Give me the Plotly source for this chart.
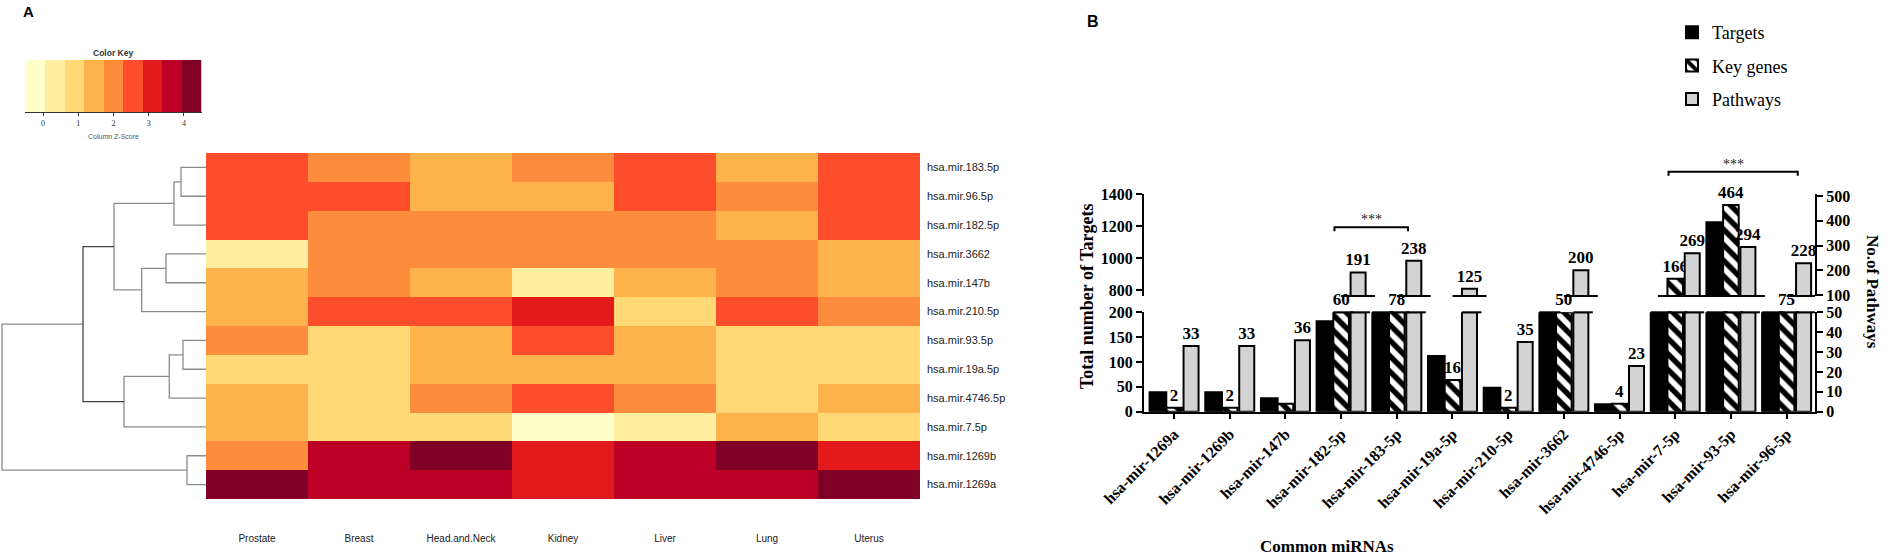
import numpy as np
import plotly.graph_objects as go

W, H = 1895, 559


def px_x(p):
    return p / W


def px_y(p):
    return 1 - p / H


# ---------------- Panel A : heatmap data ----------------
tissues = ["Prostate", "Breast", "Head.and.Neck", "Kidney", "Liver", "Lung", "Uterus"]
heat_rows = ["hsa.mir.183.5p", "hsa.mir.96.5p", "hsa.mir.182.5p", "hsa.mir.3662",
             "hsa.mir.147b", "hsa.mir.210.5p", "hsa.mir.93.5p", "hsa.mir.19a.5p",
             "hsa.mir.4746.5p", "hsa.mir.7.5p", "hsa.mir.1269b", "hsa.mir.1269a"]

# column z-scores, one list per miRNA row (Prostate ... Uterus)
z_mir183_5p = [2.55, 2.0, 1.45, 2.0, 2.55, 1.45, 2.55]
z_mir96_5p = [2.55, 2.55, 1.45, 1.45, 2.55, 2.0, 2.55]
z_mir182_5p = [2.55, 2.0, 2.0, 2.0, 2.0, 1.45, 2.55]
z_mir3662 = [0.35, 2.0, 2.0, 2.0, 2.0, 2.0, 1.45]
z_mir147b = [1.45, 2.0, 1.45, 0.35, 1.45, 2.0, 1.45]
z_mir210_5p = [1.45, 2.55, 2.55, 3.1, 0.9, 2.55, 2.0]
z_mir93_5p = [2.0, 0.9, 1.45, 2.55, 1.45, 0.9, 0.9]
z_mir19a_5p = [0.9, 0.9, 1.45, 1.45, 1.45, 0.9, 0.9]
z_mir4746_5p = [1.45, 0.9, 2.0, 2.55, 2.0, 0.9, 1.45]
z_mir7_5p = [1.45, 0.9, 0.9, -0.2, 0.35, 1.45, 0.9]
z_mir1269b = [2.0, 3.65, 4.2, 3.1, 3.65, 4.2, 3.1]
z_mir1269a = [4.2, 3.65, 3.65, 3.1, 3.65, 3.65, 4.2]

# row dendrogram: (child a, child b, height); leaves 0..11, new clusters 12..
dendro_merges = [(0, 1, 25), (6, 7, 23), (10, 11, 19), (12, 2, 32), (3, 4, 40),
                 (13, 8, 36.7), (16, 5, 64.3), (17, 9, 82), (15, 18, 92),
                 (20, 19, 123), (21, 14, 204)]
dendro_dark_cluster = 21

# colour key
key_colors = ["#FFFFCC", "#FFEDA0", "#FED976", "#FEB24C", "#FD8D3C",
              "#FC4E2A", "#E31A1C", "#BD0026", "#800026"]
key_min, key_max = -0.5, 4.5
key_ticks = [0, 1, 2, 3, 4]

# ---------------- Panel B : bar data ----------------
mirnas = ["hsa-mir-1269a", "hsa-mir-1269b", "hsa-mir-147b", "hsa-mir-182-5p",
          "hsa-mir-183-5p", "hsa-mir-19a-5p", "hsa-mir-210-5p", "hsa-mir-3662",
          "hsa-mir-4746-5p", "hsa-mir-7-5p", "hsa-mir-93-5p", "hsa-mir-96-5p"]
targets = [39, 39, 27, 182, 350, 112, 48, 300, 15, 400, 1225, 350]
key_genes = [2, 2, 4, 60, 78, 16, 2, 50, 4, 166, 464, 75]
pathways = [33, 33, 36, 191, 238, 125, 35, 200, 23, 269, 294, 228]
unlabelled_key_genes = ["hsa-mir-147b"]

left_low_ticks = [0, 50, 100, 150, 200]
left_up_ticks = [800, 1000, 1200, 1400]
right_low_ticks = [0, 10, 20, 30, 40, 50]
right_up_ticks = [100, 200, 300, 400, 500]

# significance brackets: (from, to, height on the left "Targets" scale)
sig_pairs = [("hsa-mir-182-5p", "hsa-mir-183-5p", 1193), ("hsa-mir-7-5p", "hsa-mir-96-5p", 1542)]

# ---------------- figure ----------------
fig = go.Figure()

serif = "Liberation Serif"
sans = "Liberation Sans"

# band geometry (pixels) of the broken axes
LOW_PX = (411.7, 312.3)
UP_PX = (296.0, 194.3)
LOW = {"left": (0, 200), "right": (0, 50)}
UP = {"left": (762, 1400), "right": (96, 507)}

# heatmap
zscores = [z_mir183_5p, z_mir96_5p, z_mir182_5p, z_mir3662, z_mir147b, z_mir210_5p,
           z_mir93_5p, z_mir19a_5p, z_mir4746_5p, z_mir7_5p, z_mir1269b, z_mir1269a]
nk = len(key_colors)
cscale = []
for k, c in enumerate(key_colors):
    cscale.append([k / nk, c])
    cscale.append([(k + 1) / nk, c])

fig.add_trace(go.Heatmap(z=zscores, x=list(range(len(tissues))), y=list(range(len(heat_rows))),
                         colorscale=cscale, zmin=key_min, zmax=key_max, showscale=False,
                         xaxis="x2", yaxis="y5", hoverinfo="skip"))

# dendrogram
pos = {i: (0.0, float(i)) for i in range(len(heat_rows))}
lx, ly, dx, dy = [], [], [], []
for k, (a, b, h) in enumerate(dendro_merges):
    cid = len(heat_rows) + k
    ha, ya = pos[a]
    hb, yb = pos[b]
    xs = [ha, h, h, hb, None]
    ys = [ya, ya, yb, yb, None]
    if cid == dendro_dark_cluster:
        dx += xs
        dy += ys
    else:
        lx += xs
        ly += ys
    pos[cid] = (h, (ya + yb) / 2)
fig.add_trace(go.Scatter(x=lx, y=ly, mode="lines", line=dict(color="#8c8c8c", width=1.3),
                         xaxis="x3", yaxis="y6", showlegend=False, hoverinfo="skip"))
fig.add_trace(go.Scatter(x=dx, y=dy, mode="lines", line=dict(color="#444444", width=1.3),
                         xaxis="x3", yaxis="y6", showlegend=False, hoverinfo="skip"))

# colour key
step = (key_max - key_min) / nk
key_centers = [key_min + (k + 0.5) * step for k in range(nk)]
fig.add_trace(go.Heatmap(z=[key_centers], x=key_centers, y=[0], colorscale=cscale,
                         zmin=key_min, zmax=key_max, showscale=False,
                         xaxis="x4", yaxis="y7", hoverinfo="skip"))

# helper axis sharing the upper-left scale, spanning the whole bar area (not clipped)
k_up = (UP["left"][1] - UP["left"][0]) / (UP_PX[0] - UP_PX[1])
HELP_PX = (425.0, 140.0)
help_range = [UP["left"][0] - (HELP_PX[0] - UP_PX[0]) * k_up,
              UP["left"][0] + (UP_PX[0] - HELP_PX[1]) * k_up]
low_top_in_help = UP["left"][0] - (LOW_PX[1] - UP_PX[0]) * k_up
up_bottom_in_help = UP["left"][0]

# bars with broken axes
xi = np.arange(len(mirnas))
series = [
    dict(name="Targets", vals=np.array(targets), side="left", offset=-0.44, width=0.30,
         color="black", pattern=None, labels=False),
    dict(name="Key genes", vals=np.array(key_genes), side="right", offset=-0.14, width=0.28,
         color="white", pattern=dict(shape="\\", fgcolor="black", bgcolor="white", size=11, solidity=0.5),
         labels=True),
    dict(name="Pathways", vals=np.array(pathways), side="right", offset=0.17, width=0.27,
         color="#d3d3d3", pattern=None, labels=True),
]
label_font = dict(family=serif, size=17, color="black", weight="bold")
seg_x, seg_y = [], []
for s in series:
    v = s["vals"]
    lo_max = LOW[s["side"]][1]
    up_min = UP[s["side"]][0]
    upmask = v > up_min
    low_y = np.minimum(v, lo_max)
    up_y = [float(val - up_min) if m else None for val, m in zip(v, upmask)]
    low_text, up_text = [], []
    for name, val, m in zip(mirnas, v, upmask):
        show = s["labels"] and not (s["name"] == "Key genes" and name in unlabelled_key_genes)
        low_text.append(str(val) if (show and not m) else "")
        up_text.append(str(val) if (show and m) else "")
    marker = dict(color=s["color"], line=dict(color="black", width=2))
    if s["pattern"]:
        marker["pattern"] = s["pattern"]
    ylow = "y" if s["side"] == "left" else "y2"
    yup = "y3" if s["side"] == "left" else "y4"
    fig.add_trace(go.Bar(x=xi, y=low_y, offset=s["offset"], width=s["width"], marker=marker,
                         text=low_text, textposition="outside", textfont=label_font,
                         cliponaxis=False, constraintext="none", name=s["name"],
                         legendgroup=s["name"], showlegend=True, xaxis="x", yaxis=ylow,
                         hoverinfo="skip"))
    fig.add_trace(go.Bar(x=xi, y=up_y, base=up_min, offset=s["offset"], width=s["width"], marker=marker,
                         text=up_text, textposition="outside", textfont=label_font,
                         cliponaxis=False, constraintext="none", name=s["name"],
                         legendgroup=s["name"], showlegend=False, xaxis="x", yaxis=yup,
                         hoverinfo="skip"))
    for i, val in enumerate(v):
        left = i + s["offset"]
        right = left + s["width"]
        if val > lo_max:
            seg_x += [left, right + 0.08, None]
            seg_y += [low_top_in_help, low_top_in_help, None]
        if val > up_min:
            seg_x += [left - 0.17, right + 0.17, None]
            seg_y += [up_bottom_in_help, up_bottom_in_help, None]

fig.add_trace(go.Scatter(x=seg_x, y=seg_y, mode="lines", line=dict(color="black", width=2),
                         xaxis="x", yaxis="y8", showlegend=False, hoverinfo="skip"))

# significance brackets
annotations = []
bx, by = [], []
for a, b, yv in sig_pairs:
    x0 = mirnas.index(a) - 0.12
    x1 = mirnas.index(b) + 0.2
    bx += [x0, x0, x1, x1, None]
    by += [yv - 25, yv, yv, yv - 25, None]
    annotations.append(dict(x=(x0 + x1) / 2, y=yv, xref="x", yref="y8", text="***",
                            showarrow=False, yanchor="bottom", yshift=-2,
                            font=dict(family=serif, size=14, color="#222")))
fig.add_trace(go.Scatter(x=bx, y=by, mode="lines", line=dict(color="black", width=2),
                         xaxis="x", yaxis="y8", showlegend=False, hoverinfo="skip"))

# ---------------- layout ----------------
tick_font_b = dict(family=serif, size=16, color="black", weight="bold")
ax_common = dict(showgrid=False, zeroline=False, showline=True, linecolor="black", linewidth=2,
                 ticks="outside", ticklen=6, tickwidth=2, tickcolor="black", tickfont=tick_font_b,
                 automargin=False)

low_dom = [px_y(LOW_PX[0]), px_y(LOW_PX[1])]
up_dom = [px_y(UP_PX[0]), px_y(UP_PX[1])]
hm_ydom = [px_y(499), px_y(153)]
hidden = dict(visible=False, showgrid=False, zeroline=False, automargin=False)

fig.update_layout(
    template="none",
    width=W, height=H, margin=dict(l=0, r=0, t=0, b=0, pad=0), autosize=False,
    paper_bgcolor="white", plot_bgcolor="rgba(0,0,0,0)", barmode="overlay",
    showlegend=True,
    legend=dict(x=px_x(1672), y=px_y(14), xanchor="left", yanchor="top",
                font=dict(family=serif, size=18, color="black"), tracegroupgap=7,
                bgcolor="rgba(0,0,0,0)"),
    xaxis=dict(domain=[px_x(1144), px_x(1815)], range=[-0.54, 11.51], anchor="y",
               tickvals=list(xi), ticktext=mirnas, tickangle=-45, **{**ax_common, "ticklen": 5}),
    yaxis=dict(domain=low_dom, range=list(LOW["left"]), anchor="x", tickvals=left_low_ticks, **ax_common),
    yaxis2=dict(overlaying="y", side="right", range=list(LOW["right"]), anchor="x",
                tickvals=right_low_ticks, **ax_common),
    yaxis3=dict(domain=up_dom, range=list(UP["left"]), anchor="x", tickvals=left_up_ticks, **ax_common),
    yaxis4=dict(overlaying="y3", side="right", range=list(UP["right"]), anchor="x",
                tickvals=right_up_ticks, **ax_common),
    yaxis8=dict(domain=[px_y(HELP_PX[0]), px_y(HELP_PX[1])], range=help_range, anchor="x", **hidden),
    xaxis2=dict(domain=[px_x(206), px_x(920)], range=[-0.5, len(tissues) - 0.5], anchor="y5",
                tickvals=list(range(len(tissues))), ticktext=tissues, showgrid=False, zeroline=False,
                showline=False, ticks="", ticklabelstandoff=32, automargin=False,
                tickfont=dict(family=sans, size=10, color="#222")),
    yaxis5=dict(domain=hm_ydom, range=[len(heat_rows) - 0.5, -0.5], anchor="x2", side="right",
                tickvals=list(range(len(heat_rows))), ticktext=heat_rows, showgrid=False,
                zeroline=False, showline=False, ticks="", ticklabelstandoff=6, automargin=False,
                tickfont=dict(family=sans, size=11, color="#222")),
    xaxis3=dict(domain=[0, px_x(206)], range=[206, 0], anchor="y6", **hidden),
    yaxis6=dict(domain=hm_ydom, range=[len(heat_rows) - 0.5, -0.5], anchor="x3", **hidden),
    xaxis4=dict(domain=[px_x(25.4), px_x(201.6)], range=[key_min, key_max], anchor="y7",
                tickvals=key_ticks, showgrid=False, zeroline=False, showline=True,
                linecolor="#333", linewidth=1, ticks="outside", ticklen=3, tickcolor="#333",
                automargin=False, tickfont=dict(family=serif, size=8, color="#333")),
    yaxis7=dict(domain=[px_y(112), px_y(60)], range=[-0.5, 0.5], anchor="x4", **hidden),
)

annotations += [
    dict(x=px_x(28), y=px_y(11), text="A", font=dict(family=sans, size=15, color="black", weight="bold")),
    dict(x=px_x(1093), y=px_y(21), text="B", font=dict(family=sans, size=16, color="black", weight="bold")),
    dict(x=px_x(113), y=px_y(53), text="Color Key", font=dict(family=sans, size=8.5, color="#333", weight="bold")),
    dict(x=px_x(113), y=px_y(136), text="Column Z-Score", font=dict(family=sans, size=7, color="#555")),
    dict(x=px_x(1087), y=px_y(296), text="Total number of Targets", textangle=-90,
         font=dict(family=serif, size=18, color="black", weight="bold")),
    dict(x=px_x(1873), y=px_y(292), text="No.of Pathways", textangle=90,
         font=dict(family=serif, size=17, color="black", weight="bold")),
    dict(x=px_x(1327), y=px_y(546), text="Common miRNAs",
         font=dict(family=serif, size=17, color="black", weight="bold")),
]
for an in annotations:
    an.setdefault("xref", "paper")
    an.setdefault("yref", "paper")
    an.setdefault("showarrow", False)
    an.setdefault("xanchor", "center")
    an.setdefault("yanchor", "middle")
fig.update_layout(annotations=annotations)

fig.write_html("out.html", config={"displayModeBar": False},
               post_script="document.body.style.margin='0';document.body.style.overflow='hidden';")
